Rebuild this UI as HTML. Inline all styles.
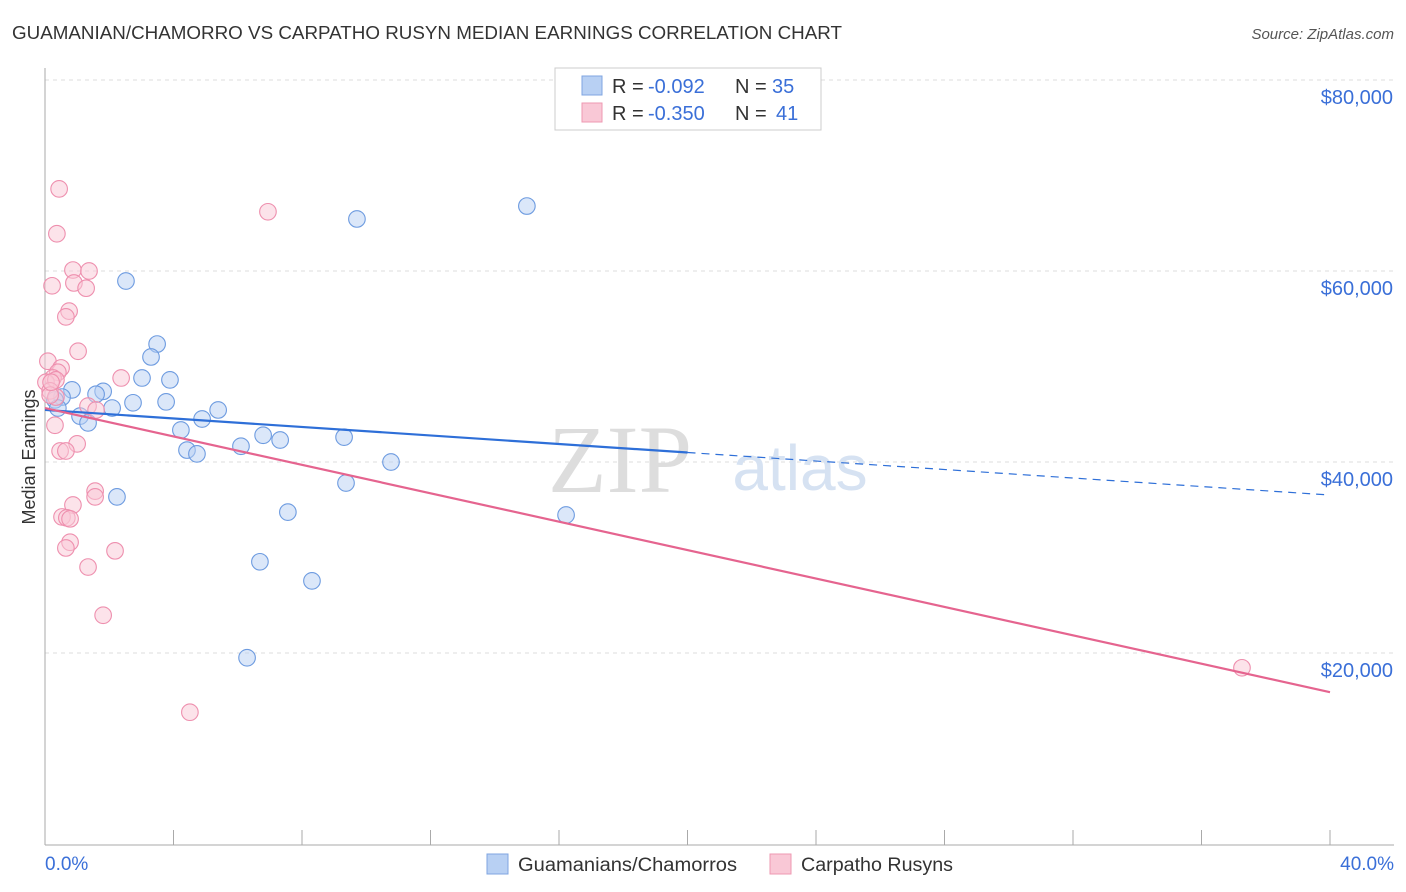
<!DOCTYPE html>
<html><head><meta charset="utf-8"><style>
body{margin:0;background:#fff;font-family:"Liberation Sans",sans-serif;}
svg{display:block}
</style></head><body>
<svg id="chart" width="1406" height="892">
<text x="12" y="39" font-size="18" fill="#333" textLength="830" lengthAdjust="spacingAndGlyphs">GUAMANIAN/CHAMORRO VS CARPATHO RUSYN MEDIAN EARNINGS CORRELATION CHART</text>
<text x="1394" y="39" font-size="15" fill="#555" font-style="italic" text-anchor="end">Source: ZipAtlas.com</text>
<g id="grid"></g>
<text x="620" y="492" font-size="96" fill="#ddd" font-family="Liberation Serif" text-anchor="middle">ZIP</text>
<text x="800" y="490" font-size="64" fill="#d6e2f2" text-anchor="middle">atlas</text>
<line x1="45" y1="68" x2="45" y2="845" stroke="#aaa"/>
<line x1="45" y1="845" x2="1394" y2="845" stroke="#aaa"/>
<g id="marks"></g>
<text transform="translate(35,457) rotate(-90)" font-size="18" fill="#333" text-anchor="middle">Median Earnings</text>
<text x="45" y="870" font-size="19" fill="#3a6fd8">0.0%</text>
<text x="1394" y="870" font-size="19" fill="#3a6fd8" text-anchor="end">40.0%</text>
<g>
<rect x="555" y="68" width="266" height="62" fill="#fff" stroke="#ccc"/>
<rect x="582" y="76" width="20" height="19" fill="#b8d0f3" stroke="#7fa5e0"/>
<rect x="582" y="103" width="20" height="19" fill="#f9c8d6" stroke="#ee98b2"/>
<text x="612" y="93" font-size="20" fill="#333">R =</text><text x="648" y="93" font-size="20" fill="#3a6fd8">-0.092</text>
<text x="735" y="93" font-size="20" fill="#333">N =</text><text x="772" y="93" font-size="20" fill="#3a6fd8">35</text>
<text x="612" y="120" font-size="20" fill="#333">R =</text><text x="648" y="120" font-size="20" fill="#3a6fd8">-0.350</text>
<text x="735" y="120" font-size="20" fill="#333">N =</text><text x="776" y="120" font-size="20" fill="#3a6fd8">41</text>
</g>
<g>
<rect x="487" y="854" width="21" height="20" fill="#b8d0f3" stroke="#7fa5e0"/>
<text x="518" y="871" font-size="19" fill="#333" textLength="219" lengthAdjust="spacingAndGlyphs">Guamanians/Chamorros</text>
<rect x="770" y="854" width="21" height="20" fill="#f9c8d6" stroke="#ee98b2"/>
<text x="801" y="871" font-size="19" fill="#333" textLength="152" lengthAdjust="spacingAndGlyphs">Carpatho Rusyns</text>
</g>
</svg>
<script>
const yTicks=[20000,40000,60000,80000];
const yTickLabels=["$20,000","$40,000","$60,000","$80,000"];
const xTicks=[0,4,8,12,16,20,24,28,32,36,40];
const blueX=[2.52,3.49,3.30,3.02,3.89,0.84,1.81,1.59,0.53,0.31,3.77,2.74,2.09,5.39,1.09,1.34,4.89,4.23,6.79,7.32,9.31,6.10,4.42,4.73,10.77,9.37,2.24,7.56,16.22,6.69,8.31,6.29,9.71,15.00,0.40];
const blueY=[58950,52350,51000,48800,48600,47550,47400,47100,46800,46500,46300,46200,45650,45450,44800,44100,44500,43350,42800,42300,42600,41650,41250,40850,40000,37800,36350,34750,34450,29550,27550,19500,65450,66800,45650];
const pinkX=[0.44,6.94,0.37,0.87,1.37,0.22,0.90,1.28,0.75,0.65,1.03,0.09,0.50,0.40,0.25,0.03,0.34,2.37,0.16,0.34,1.34,1.59,0.31,1.00,0.47,0.65,1.56,1.56,0.87,0.53,0.68,0.78,0.78,0.65,2.18,1.34,1.81,4.51,37.26,0.16,0.19];
const pinkY=[68600,66200,63900,60100,60000,58450,58750,58200,55800,55200,51600,50550,49850,49400,48800,48350,48600,48800,47450,46800,45850,45450,43850,41900,41150,41150,36950,36350,35500,34250,34150,34050,31600,31000,30700,29000,23950,13800,18450,47000,48350];
const blueTrend=[45450,36540];
const pinkTrend=[45650,15900];
const NS="http://www.w3.org/2000/svg";
const xs=v=>45+v/40*1285;
const ys=v=>844-v/20000*191;
function mk(t,a,p){const e=document.createElementNS(NS,t);for(const k in a)e.setAttribute(k,a[k]);p.appendChild(e);return e;}
const grid=document.getElementById('grid'),marks=document.getElementById('marks');
yTicks.forEach((v,i)=>{
 const l=mk('line',{x1:45,x2:1394,y1:ys(v),y2:ys(v),stroke:'#ddd','stroke-dasharray':'4,4'},grid);
 
 
 const t=mk('text',{x:1393,y:ys(v)+24,'font-size':20,fill:'#3a6fd8','text-anchor':'end'},grid);
 t.textContent=yTickLabels[i];
 
 
});
xTicks.forEach(v=>{
 const l=mk('line',{x1:xs(v),x2:xs(v),y1:830,y2:845,stroke:'#aaa'},grid);
 
 
});
function pts(X,Y,fill,stroke,name){X.forEach((x,i)=>{
 const c=mk('circle',{cx:xs(x),cy:ys(Y[i]),r:8.3,fill:fill,'fill-opacity':0.5,stroke:stroke,'stroke-width':1.1},marks);
 
 
});}
pts(blueX,blueY,'#b8d0f3','#6d9be0','guamanian-point');
pts(pinkX,pinkY,'#f9c8d6','#ee8fae','carpatho-point');
const bm=blueTrend[0]+(blueTrend[1]-blueTrend[0])*(20/40);
let l=mk('line',{x1:xs(0),y1:ys(blueTrend[0]),x2:xs(20),y2:ys(bm),stroke:'#2e6fd8','stroke-width':2.2},marks);


l=mk('line',{x1:xs(20),y1:ys(bm),x2:xs(40),y2:ys(blueTrend[1]),stroke:'#2e6fd8','stroke-width':1.2,'stroke-dasharray':'8,6'},marks);


l=mk('line',{x1:xs(0),y1:ys(pinkTrend[0]),x2:xs(40),y2:ys(pinkTrend[1]),stroke:'#e5648f','stroke-width':2.2},marks);


</script>
</body></html>
